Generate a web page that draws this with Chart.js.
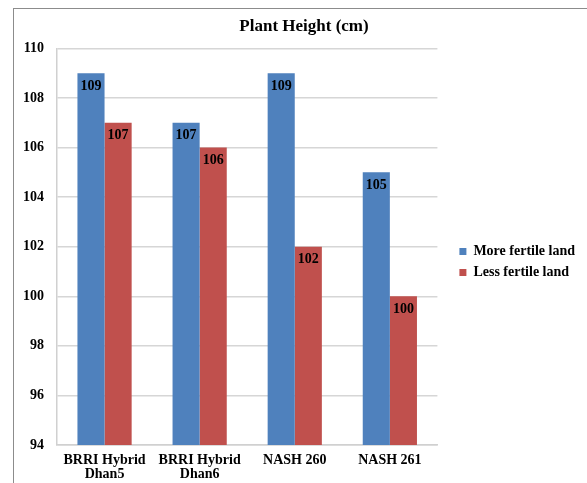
<!DOCTYPE html>
<html>
<head>
<meta charset="utf-8">
<script src="https://cdn.jsdelivr.net/npm/chart.js@4/dist/chart.umd.min.js"></script>
<style>
  html, body { margin: 0; padding: 0; background: #fff; }
  #wrap { position: relative; width: 587px; height: 483px; overflow: hidden; }
  #frame { position: absolute; left: 13px; top: 8px; width: 640px; height: 540px; border: 1.5px solid #8c8c8c; box-sizing: border-box; }
  #c { position: absolute; left: 0; top: 0; }
</style>
</head>
<body>
<div id="wrap">
  <div id="frame"></div>
  <canvas id="c" width="587" height="483"></canvas>
</div>
<script>
const categories = [['BRRI Hybrid', 'Dhan5'], ['BRRI Hybrid', 'Dhan6'], 'NASH 260', 'NASH 261'];
const moreFertile = [109, 107, 109, 105];
const lessFertile = [107, 106, 102, 100];
const seriesNames = ['More fertile land', 'Less fertile land'];
const yTicks = [94, 96, 98, 100, 102, 104, 106, 108, 110];

const serif = "'Liberation Serif', 'Times New Roman', serif";

// Writes each bar's value just inside its top edge
const barValueLabels = {
  id: 'barValueLabels',
  afterDatasetsDraw(chart) {
    const ctx = chart.ctx;
    ctx.save();
    ctx.font = 'bold 14px ' + serif;
    ctx.fillStyle = '#000';
    ctx.textAlign = 'center';
    ctx.textBaseline = 'middle';
    chart.data.datasets.forEach((ds, i) => {
      chart.getDatasetMeta(i).data.forEach((bar, j) => {
        ctx.fillText(String(ds.data[j]), bar.x, bar.y + 13);
      });
    });
    ctx.restore();
  }
};

new Chart(document.getElementById('c'), {
  type: 'bar',
  data: {
    labels: categories,
    datasets: [
      { label: seriesNames[0], data: moreFertile, backgroundColor: '#4F81BD' },
      { label: seriesNames[1], data: lessFertile, backgroundColor: '#C0504D' }
    ]
  },
  options: {
    responsive: false,
    animation: false,
    devicePixelRatio: 1,
    layout: { padding: { left: 23, right: 2, top: 8, bottom: 0 } },
    datasets: { bar: { categoryPercentage: 0.57, barPercentage: 1.0 } },
    plugins: {
      title: {
        display: true,
        text: 'Plant Height (cm)',
        color: '#000',
        font: { family: serif, size: 17, weight: 'bold' },
        padding: { top: 8, bottom: 12 }
      },
      legend: {
        position: 'right',
        maxWidth: 180,
        // empty title only nudges the entries down a little
        title: { display: true, text: ' ', font: { size: 1 }, padding: { top: 16, bottom: 16 } },
        labels: {
          color: '#000',
          font: { family: serif, size: 14, weight: 'bold' },
          boxWidth: 7,
          boxHeight: 7,
          padding: 7
        }
      },
      tooltip: { enabled: false }
    },
    scales: {
      x: {
        grid: { display: false, drawTicks: false },
        border: { color: '#d0d0d0', width: 1.5 },
        afterFit(scale) { scale.height = 38; },
        ticks: {
          color: '#000',
          font: { family: serif, size: 14, weight: 'bold', lineHeight: 1.0 },
          padding: 8,
          maxRotation: 0,
          autoSkip: false
        }
      },
      y: {
        min: yTicks[0],
        max: yTicks[yTicks.length - 1],
        afterBuildTicks(axis) { axis.ticks = yTicks.map(v => ({ value: v })); },
        afterFit(scale) { scale.width = 34; },
        grid: { color: '#d6d6d6', lineWidth: 1.5, drawTicks: false },
        border: { color: '#d0d0d0', width: 1.5 },
        ticks: {
          color: '#000',
          font: { family: serif, size: 14, weight: 'bold' },
          padding: 13
        }
      },
      // blank axis that keeps a gap between the plot and the legend
      gap: {
        position: 'right',
        display: true,
        grid: { display: false, drawTicks: false },
        border: { display: false },
        ticks: { display: false },
        afterFit(scale) { scale.width = 15; }
      }
    }
  },
  plugins: [barValueLabels]
});
</script>
</body>
</html>
